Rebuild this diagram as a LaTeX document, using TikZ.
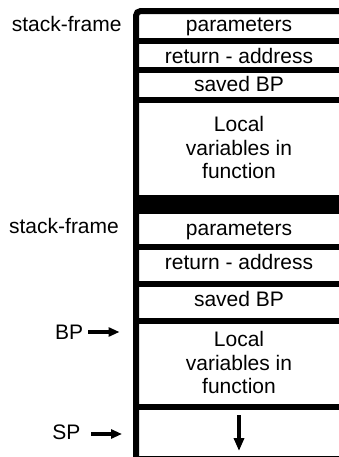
\documentclass[tikz,border=0pt]{standalone}
\usepackage{fontspec}
\setmainfont{Liberation Sans}
\usetikzlibrary{arrows.meta}
\begin{document}
\begin{tikzpicture}[x=1pt,y=-1pt,
  lbl/.style={font=\fontsize{21}{23.5}\selectfont, inner sep=0pt, anchor=base},
  sep/.style={line width=6pt},
  ptr/.style={line width=3.2pt, -{Triangle[length=11pt,width=9pt]}},
  growarrow/.style={line width=3.6pt, -{Triangle[length=13pt,width=10pt]}}]
\useasboundingbox (0,0) rectangle (339,457);
\clip (0,0) rectangle (339,457);
\fill[white] (0,0) rectangle (339,457);
% frame
\draw[sep, rounded corners=4pt] (136.2,470) -- (136.2,11.2) -- (350,11.2);
\foreach \y in {41,70,100,247,284,320.5,407,459} \draw[sep] (136,\y) -- (350,\y);
\fill (136,195) rectangle (350,214);
% upper frame
\node[lbl] (sf1) at (66.7,31.7) {stack-frame};
\node[lbl] (par1) at (239,31.7) {parameters};
\node[lbl] (ret1) at (239,63.3) {return - address};
\node[lbl] (sbp1) at (239,91.7) {saved BP};
\node[lbl] (loc1a) at (239,131.7) {Local};
\node[lbl] (loc1b) at (239,155.2) {variables in};
\node[lbl] (loc1c) at (239,178.7) {function};
% lower frame
\node[lbl] (sf2) at (64,233.3) {stack-frame};
\node[lbl] (par2) at (239,235) {parameters};
\node[lbl] (ret2) at (239,269.3) {return - address};
\node[lbl] (sbp2) at (239,306.7) {saved BP};
\node[lbl] (loc2a) at (239,346.7) {Local};
\node[lbl] (loc2b) at (239,370.2) {variables in};
\node[lbl] (loc2c) at (239,393.7) {function};
% pointers
\node[lbl, anchor=base east] (bp) at (83.3,339) {BP};
\node[lbl, anchor=base east] (sp) at (80.7,439.3) {SP};
\coordinate (bptip) at (119.5,332);
\coordinate (sptail) at (91,434);
\coordinate (sptip) at (122,434);
\coordinate (grow0) at (239,415);
\coordinate (grow1) at (239,451);
\draw[ptr] ([xshift=5pt]bp.east |- bptip) -- (bptip);
\draw[ptr] (sptail) -- (sptip);
\draw[growarrow] (grow0) -- (grow1);
\end{tikzpicture}
\end{document}
